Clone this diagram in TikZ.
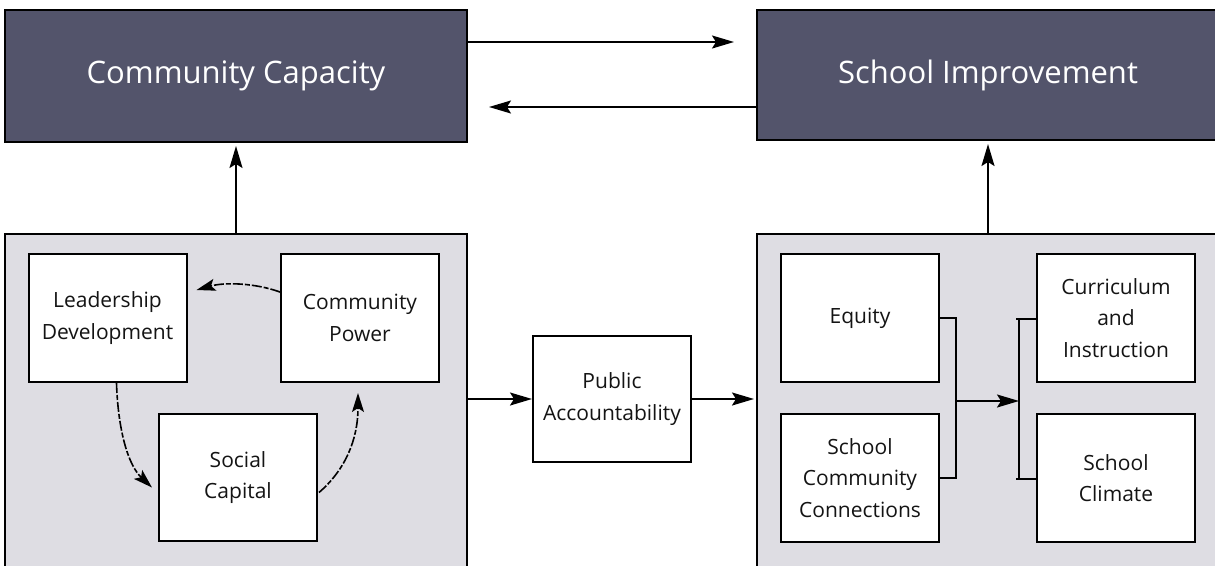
\documentclass[tikz,border=0pt]{standalone}
\usepackage{fontspec}
\setmainfont{Open Sans}
\usetikzlibrary{arrows.meta,calc}
\definecolor{darkbox}{HTML}{53546B}
\definecolor{panelgray}{HTML}{DEDDE3}
\definecolor{inktext}{HTML}{141414}
\begin{document}
\begin{tikzpicture}[x=1pt,y=-1pt,
  titlebox/.style={draw=black,line width=2pt,fill=darkbox,text=white,
     font=\fontsize{31}{36}\selectfont,inner sep=0pt,anchor=center},
  panel/.style={draw=black,line width=2pt,fill=panelgray,inner sep=0pt},
  itembox/.style={draw=black,line width=2pt,fill=white,text=inktext,
     minimum width=158pt,minimum height=128pt,inner sep=0pt,align=center,
     font=\fontsize{21}{31.5}\selectfont},
  conn/.style={line width=1.8pt,-{Stealth[length=22pt,width=13pt,inset=4pt]}},
  loopconn/.style={line width=1.6pt,dash pattern=on 10pt off 2pt on 5pt off 2pt,
     -{Stealth[length=19pt,width=12pt,inset=4pt]}},
  bracket/.style={line width=2pt}
]
\useasboundingbox (0,0) rectangle (1215,565);
\clip (0,0) rectangle (1215,565);
\fill[white] (0,0) rectangle (1215,565);

% top boxes
\node[titlebox,minimum width=462pt,minimum height=132pt] (cc) at (236,76) {\raisebox{-3pt}{Community Capacity}};
\node[titlebox,minimum width=462pt,minimum height=130pt] (si) at (988,75) {\raisebox{-3pt}{School Improvement}};

% panels
\node[panel,minimum width=462pt,minimum height=341pt] (lp) at (236,404.5) {};
\node[panel,minimum width=462pt,minimum height=341pt] (rp) at (988,404.5) {};

% left inner boxes
\node[itembox] (ld) at (107.5,318) {Leadership\\Development};
\node[itembox] (cp) at (360,318) {Community\\Power};
\node[itembox,minimum height=127pt] (sc) at (238,477.5) {Social\\Capital};

% middle
\node[itembox,minimum height=126pt] (pa) at (612,399) {Public\\Accountability};

% right inner boxes
\node[itembox] (eq) at (860,318) {Equity};
\node[itembox] (scc) at (860,478) {School\\Community\\Connections};
\node[itembox] (ci) at (1116,318) {Curriculum\\and\\Instruction};
\node[itembox] (scl) at (1116,478) {School\\Climate};

% top connectors
\draw[conn,shorten >=22pt] ($(cc.north east)+(0,33)$) -- ($(si.north west)+(0,33)$);
\draw[conn,shorten >=21pt] ($(si.north west)+(0,98)$) -- ($(cc.north east)+(0,98)$);

% vertical connectors
\draw[conn,shorten >=3pt] (lp.north) -- (cc.south);
\draw[conn,shorten >=3pt] (rp.north) -- (rp.north |- si.south);

% through Public Accountability
\draw[conn] (lp.east |- pa.west) -- (pa.west);
\draw[conn,shorten >=2pt] (pa.east) -- (pa.east -| rp.west);

% loop arrows
\draw[loopconn] ($(cp.west)+(0,-26)$) .. controls (255,283) and (225,282) .. ($(ld.east)+(9,-28)$);
\draw[loopconn] ($(ld.south)+(9,0)$) .. controls (118,430) and (128,465) .. ($(sc.west)+(-6,10)$);
\draw[loopconn] ($(sc.east)+(1,15)$) .. controls (345,470) and (358,440) .. ($(cp.south)+(-2,10)$);

% brackets
\coordinate (jl) at (956,401);
\coordinate (jr) at (1019,401);
\draw[bracket] (eq.east) -| (jl) |- (scc.east);
\draw[bracket] ($(ci.west)+(0,1)$) -| (jr) |- ($(scl.west)+(0,1)$);
\draw[bracket] (1016,319) -- (1019,319);
\draw[bracket] (1016,479) -- (1019,479);
\draw[conn] (jl) -- (jr);
\end{tikzpicture}
\end{document}
